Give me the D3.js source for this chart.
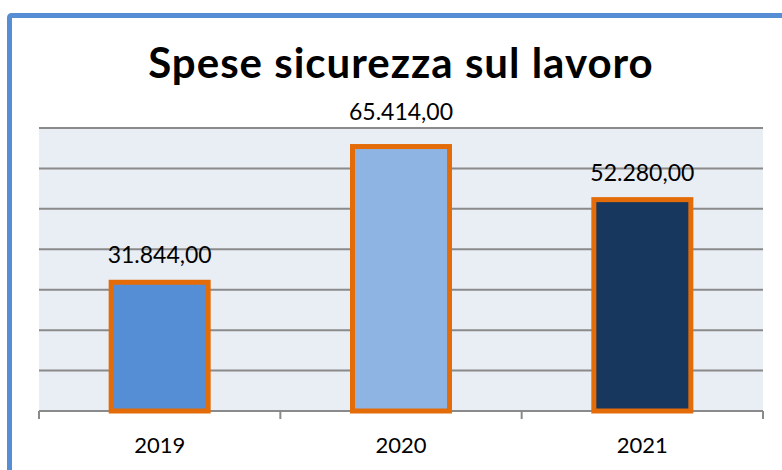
<!DOCTYPE html>
<html>
<head>
<meta charset="utf-8">
<script src="https://cdn.jsdelivr.net/npm/d3@7"></script>
<style>
  body { margin: 0; background: #fff; }
  svg { display: block; font-family: Lato, "Open Sans", sans-serif; }
</style>
</head>
<body>
<div id="chart"></div>
<script>
// data
const years = ["2019", "2020", "2021"];
const spese = [31844, 65414, 52280];
const barColors = ["#558ed5", "#8eb4e3", "#17375e"];
const yTicks = [0, 10000, 20000, 30000, 40000, 50000, 60000, 70000];

const W = 782, H = 470;
const margin = { top: 128, right: 19, bottom: 59, left: 39 };
const width = W - margin.left - margin.right;
const height = H - margin.top - margin.bottom;

const it = d3.formatLocale({ decimal: ",", thousands: ".", grouping: [3], currency: ["€", ""] });
const fmt = it.format(",.2f");

const svg = d3.select("#chart").append("svg")
    .attr("width", W)
    .attr("height", H);

// outer frame (right and bottom sides fall outside the picture)
svg.append("rect")
    .attr("x", 9.5).attr("y", 15.5)
    .attr("width", W + 20).attr("height", H + 20)
    .attr("rx", 2)
    .attr("fill", "#fff")
    .attr("stroke", "#558ed5")
    .attr("stroke-width", 5);

svg.append("text")
    .attr("x", 401)
    .attr("y", 78)
    .attr("text-anchor", "middle")
    .attr("font-size", 42)
    .attr("font-weight", "bold")
    .attr("letter-spacing", 1)
    .attr("fill", "#000")
    .text("Spese sicurezza sul lavoro");

const g = svg.append("g")
    .attr("transform", "translate(" + margin.left + "," + margin.top + ")");

const x = d3.scaleBand()
    .domain(years)
    .range([0, width])
    .paddingInner(0.6)
    .paddingOuter(0.3);

const y = d3.scaleLinear()
    .domain([0, 70000])
    .range([height, 0]);

g.append("rect")
    .attr("width", width)
    .attr("height", height)
    .attr("fill", "#e9edf4");

g.selectAll(".grid")
    .data(yTicks.slice(1))
    .enter()
    .append("line")
    .attr("class", "grid")
    .attr("x1", 0).attr("x2", width)
    .attr("y1", d => y(d)).attr("y2", d => y(d))
    .attr("stroke", "#8a8a8a")
    .attr("stroke-width", 2);

// x axis with Excel-style ticks at category boundaries
const step = width / years.length;
const xAxis = g.append("g")
    .attr("transform", "translate(0," + height + ")");
xAxis.append("line")
    .attr("x1", 0).attr("x2", width)
    .attr("stroke", "#8a8a8a").attr("stroke-width", 2);
xAxis.selectAll(".tick")
    .data(d3.range(years.length + 1))
    .enter()
    .append("line")
    .attr("x1", d => d * step).attr("x2", d => d * step)
    .attr("y1", 0).attr("y2", 8)
    .attr("stroke", "#8a8a8a").attr("stroke-width", 2);
xAxis.selectAll(".lbl")
    .data(years)
    .enter()
    .append("text")
    .attr("x", d => x(d) + x.bandwidth() / 2)
    .attr("y", 42)
    .attr("text-anchor", "middle")
    .attr("font-size", 22)
    .attr("fill", "#000")
    .text(d => d);

const bw = 97;
g.selectAll(".bar")
    .data(years)
    .enter()
    .append("rect")
    .attr("class", "bar")
    .attr("x", d => x(d) + x.bandwidth() / 2 - bw / 2)
    .attr("y", (d, i) => y(spese[i]))
    .attr("width", bw)
    .attr("height", (d, i) => height - y(spese[i]))
    .attr("fill", (d, i) => barColors[i])
    .attr("stroke", "#e36c09")
    .attr("stroke-width", 5);

// labels sit above the bar; near the top they are pushed out of the plot area
g.selectAll(".val")
    .data(years)
    .enter()
    .append("text")
    .attr("x", d => x(d) + x.bandwidth() / 2)
    .attr("y", (d, i) => {
        const yy = y(spese[i]) - 19;
        return yy > 10 ? yy : -8;
    })
    .attr("text-anchor", "middle")
    .attr("font-size", 23)
    .attr("fill", "#000")
    .text((d, i) => fmt(spese[i]));
</script>
</body>
</html>
